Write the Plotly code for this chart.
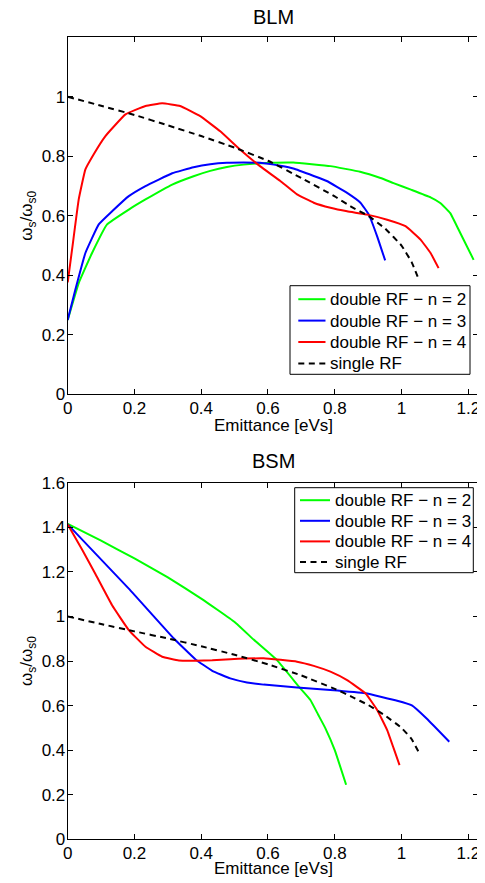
import plotly.graph_objects as go

# ---------------- data ----------------
x_ticks = [0, 0.2, 0.4, 0.6, 0.8, 1.0, 1.2]
x_tick_labels = ["0", "0.2", "0.4", "0.6", "0.8", "1", "1.2"]
blm_y_ticks = [0, 0.2, 0.4, 0.6, 0.8, 1.0]
blm_y_tick_labels = ["0", "0.2", "0.4", "0.6", "0.8", "1"]
bsm_y_ticks = [0, 0.2, 0.4, 0.6, 0.8, 1.0, 1.2, 1.4, 1.6]
bsm_y_tick_labels = ["0", "0.2", "0.4", "0.6", "0.8", "1", "1.2", "1.4", "1.6"]

series_names = ["double RF \u2212 n = 2", "double RF \u2212 n = 3",
                "double RF \u2212 n = 4", "single RF"]

# BLM panel
blm_n2_x = [0, 0.033, 0.073, 0.118, 0.183, 0.233, 0.313, 0.377, 0.427, 0.477,
            0.527, 0.607, 0.676, 0.787, 0.876, 0.937, 0.976, 1.03, 1.087, 1.116,
            1.146, 1.176, 1.216]
blm_n2_y = [0.25, 0.374, 0.475, 0.571, 0.621, 0.655, 0.705, 0.733, 0.751, 0.764,
            0.772, 0.778, 0.779, 0.767, 0.748, 0.727, 0.710, 0.687, 0.662, 0.643,
            0.609, 0.542, 0.452]

blm_n3_x = [0, 0.023, 0.053, 0.093, 0.133, 0.183, 0.233, 0.313, 0.377, 0.427,
            0.477, 0.527, 0.576, 0.637, 0.676, 0.737, 0.776, 0.837, 0.877, 0.902,
            0.927, 0.951]
blm_n3_y = [0.25, 0.352, 0.475, 0.571, 0.615, 0.666, 0.700, 0.743, 0.763, 0.773,
            0.778, 0.779, 0.778, 0.768, 0.759, 0.734, 0.717, 0.677, 0.644, 0.604,
            0.531, 0.450]

blm_n4_x = [0, 0.013, 0.033, 0.053, 0.078, 0.113, 0.173, 0.233, 0.283, 0.337,
            0.397, 0.457, 0.517, 0.577, 0.637, 0.687, 0.737, 0.787, 0.837, 0.897,
            0.957, 1.012, 1.057, 1.087, 1.111]
blm_n4_y = [0.376, 0.486, 0.655, 0.756, 0.807, 0.868, 0.941, 0.969, 0.978, 0.969,
            0.935, 0.884, 0.822, 0.766, 0.717, 0.672, 0.644, 0.627, 0.615, 0.604,
            0.587, 0.565, 0.52, 0.475, 0.424]

blm_single_x = [0, 0.1, 0.2, 0.3, 0.4, 0.5, 0.6, 0.7, 0.8, 0.85, 0.9, 0.95, 1.0,
                1.03, 1.052]
blm_single_y = [1.0, 0.97, 0.939, 0.904, 0.868, 0.829, 0.785, 0.727, 0.665, 0.630,
                0.600, 0.558, 0.50, 0.445, 0.385]

# BSM panel
bsm_n2_x = [0, 0.1, 0.2, 0.3, 0.4, 0.5, 0.557, 0.627, 0.697, 0.727, 0.75, 0.772,
            0.8, 0.834]
bsm_n2_y = [1.415, 1.34, 1.26, 1.175, 1.08, 0.975, 0.896, 0.804, 0.677, 0.625, 0.56,
            0.498, 0.40, 0.245]

bsm_n3_x = [0, 0.183, 0.318, 0.383, 0.433, 0.487, 0.537, 0.587, 0.687, 0.787, 0.892,
            0.987, 1.031, 1.076, 1.143]
bsm_n3_y = [1.413, 1.125, 0.901, 0.807, 0.756, 0.722, 0.704, 0.694, 0.681, 0.670, 0.655,
            0.622, 0.601, 0.541, 0.438]

bsm_n4_x = [0, 0.043, 0.083, 0.133, 0.183, 0.233, 0.283, 0.333, 0.383, 0.433, 0.487,
            0.587, 0.687, 0.737, 0.787, 0.837, 0.892, 0.927, 0.957, 0.976, 0.994]
bsm_n4_y = [1.413, 1.30, 1.19, 1.05, 0.939, 0.864, 0.819, 0.802, 0.801, 0.803, 0.808,
            0.812, 0.797, 0.778, 0.752, 0.714, 0.655, 0.58, 0.49, 0.41, 0.333]

bsm_single_x = [0, 0.1, 0.2, 0.3, 0.4, 0.5, 0.6, 0.7, 0.8, 0.85, 0.9, 0.95, 1.0,
                1.03, 1.056]
bsm_single_y = [1.0, 0.966, 0.933, 0.901, 0.866, 0.828, 0.785, 0.735, 0.675, 0.640,
                0.603, 0.556, 0.50, 0.45, 0.378]

# ---------------- styling ----------------
colors = ["#00ff00", "#0000ff", "#ff0000", "#000000"]
dashes = ["solid", "solid", "solid", "6px,4.5px"]
FONT = "Liberation Sans, Arial, Helvetica, sans-serif"
OFF = 8                      # default page body margin
W, H = 485 - OFF, 883 - OFF  # figure size so it fits the window
FS = 17

fig = go.Figure()

panels = [
    ("x", "y", [(blm_n2_x, blm_n2_y), (blm_n3_x, blm_n3_y),
                (blm_n4_x, blm_n4_y), (blm_single_x, blm_single_y)]),
    ("x2", "y2", [(bsm_n2_x, bsm_n2_y), (bsm_n3_x, bsm_n3_y),
                  (bsm_n4_x, bsm_n4_y), (bsm_single_x, bsm_single_y)]),
]
for xa, ya, data in panels:
    for i, (xs, ys) in enumerate(data):
        fig.add_trace(go.Scatter(
            x=xs, y=ys, mode="lines", name=series_names[i],
            xaxis=xa, yaxis=ya, showlegend=False,
            line=dict(color=colors[i], width=2, dash=dashes[i],
                      shape="spline", smoothing=0.3),
        ))

# pixel geometry in window coordinates
ax_l, ax_r = 67.7, 478.3
top_t, top_b = 37.3, 394.3
bot_t, bot_b = 482.7, 839.3

def px_x(p):
    return (p - OFF) / W

def px_y(p):
    return 1 - (p - OFF) / H

axis_common = dict(
    showline=True, linecolor="black", linewidth=1, mirror="ticks",
    ticks="inside", ticklen=5, tickwidth=1, tickcolor="black",
    showgrid=False, zeroline=False, automargin=False,
    tickfont=dict(family=FONT, size=FS, color="black"),
    ticklabelstandoff=-2,
)

fig.update_layout(
    template="none",
    width=W, height=H,
    margin=dict(l=0, r=0, t=0, b=0, autoexpand=False),
    paper_bgcolor="white", plot_bgcolor="white",
    font=dict(family=FONT, color="black", size=FS),
    showlegend=False,
    xaxis=dict(domain=[px_x(ax_l), px_x(ax_r)], range=[0, 1.23],
               tickvals=x_ticks, ticktext=x_tick_labels, anchor="y", **axis_common),
    yaxis=dict(domain=[px_y(top_b), px_y(top_t)], range=[0, 1.2],
               tickvals=blm_y_ticks, ticktext=blm_y_tick_labels, anchor="x", **axis_common),
    xaxis2=dict(domain=[px_x(ax_l), px_x(ax_r)], range=[0, 1.23],
                tickvals=x_ticks, ticktext=x_tick_labels, anchor="y2", **axis_common),
    yaxis2=dict(domain=[px_y(bot_b), px_y(bot_t)], range=[0, 1.6],
                tickvals=bsm_y_ticks, ticktext=bsm_y_tick_labels, anchor="x2", **axis_common),
)

# legend boxes (MATLAB-style), built from series names / colours
legend_boxes = [
    # box x0, x1, y0, y1, first row y, row step, sample x0, x1
    (290.0, 470.0, 285.7, 374.3, 299.2, 21.4, 298.3, 325.5),
    (294.7, 473.3, 487.7, 572.7, 500.2, 20.6, 300.0, 330.0),
]
for bx0, bx1, by0, by1, r0, step, sx0, sx1 in legend_boxes:
    fig.add_shape(type="rect", xref="paper", yref="paper", layer="above",
                  x0=px_x(bx0), x1=px_x(bx1), y0=px_y(by1), y1=px_y(by0),
                  fillcolor="white", line=dict(color="black", width=1))
    for i, name in enumerate(series_names):
        ry = r0 + i * step
        fig.add_shape(type="line", xref="paper", yref="paper", layer="above",
                      x0=px_x(sx0), x1=px_x(sx1), y0=px_y(ry), y1=px_y(ry),
                      line=dict(color=colors[i], width=2, dash=dashes[i]))
        fig.add_annotation(text=name, xref="paper", yref="paper",
                           x=px_x(sx1 + 2.5), y=px_y(ry + 0.5), xanchor="left", yanchor="middle",
                           showarrow=False, font=dict(family=FONT, size=FS, color="black"))

ylabel = "\u03c9<sub>s</sub>/\u03c9<sub>s0</sub>"
annos = [
    dict(text="BLM", x=px_x(273), y=px_y(17), font=dict(size=20)),
    dict(text="BSM", x=px_x(273), y=px_y(461), font=dict(size=20)),
    dict(text="Emittance [eVs]", x=px_x(273), y=px_y(425.5), font=dict(size=FS)),
    dict(text="Emittance [eVs]", x=px_x(273), y=px_y(868), font=dict(size=FS)),
    dict(text=ylabel, x=px_x(28), y=px_y((top_t + top_b) / 2), textangle=-90, font=dict(size=FS)),
    dict(text=ylabel, x=px_x(28), y=px_y((bot_t + bot_b) / 2), textangle=-90, font=dict(size=FS)),
]
for a in annos:
    fig.add_annotation(xref="paper", yref="paper", xanchor="center", yanchor="middle",
                       showarrow=False, font_family=FONT, font_color="black", **a)

fig.write_html("out.html")
